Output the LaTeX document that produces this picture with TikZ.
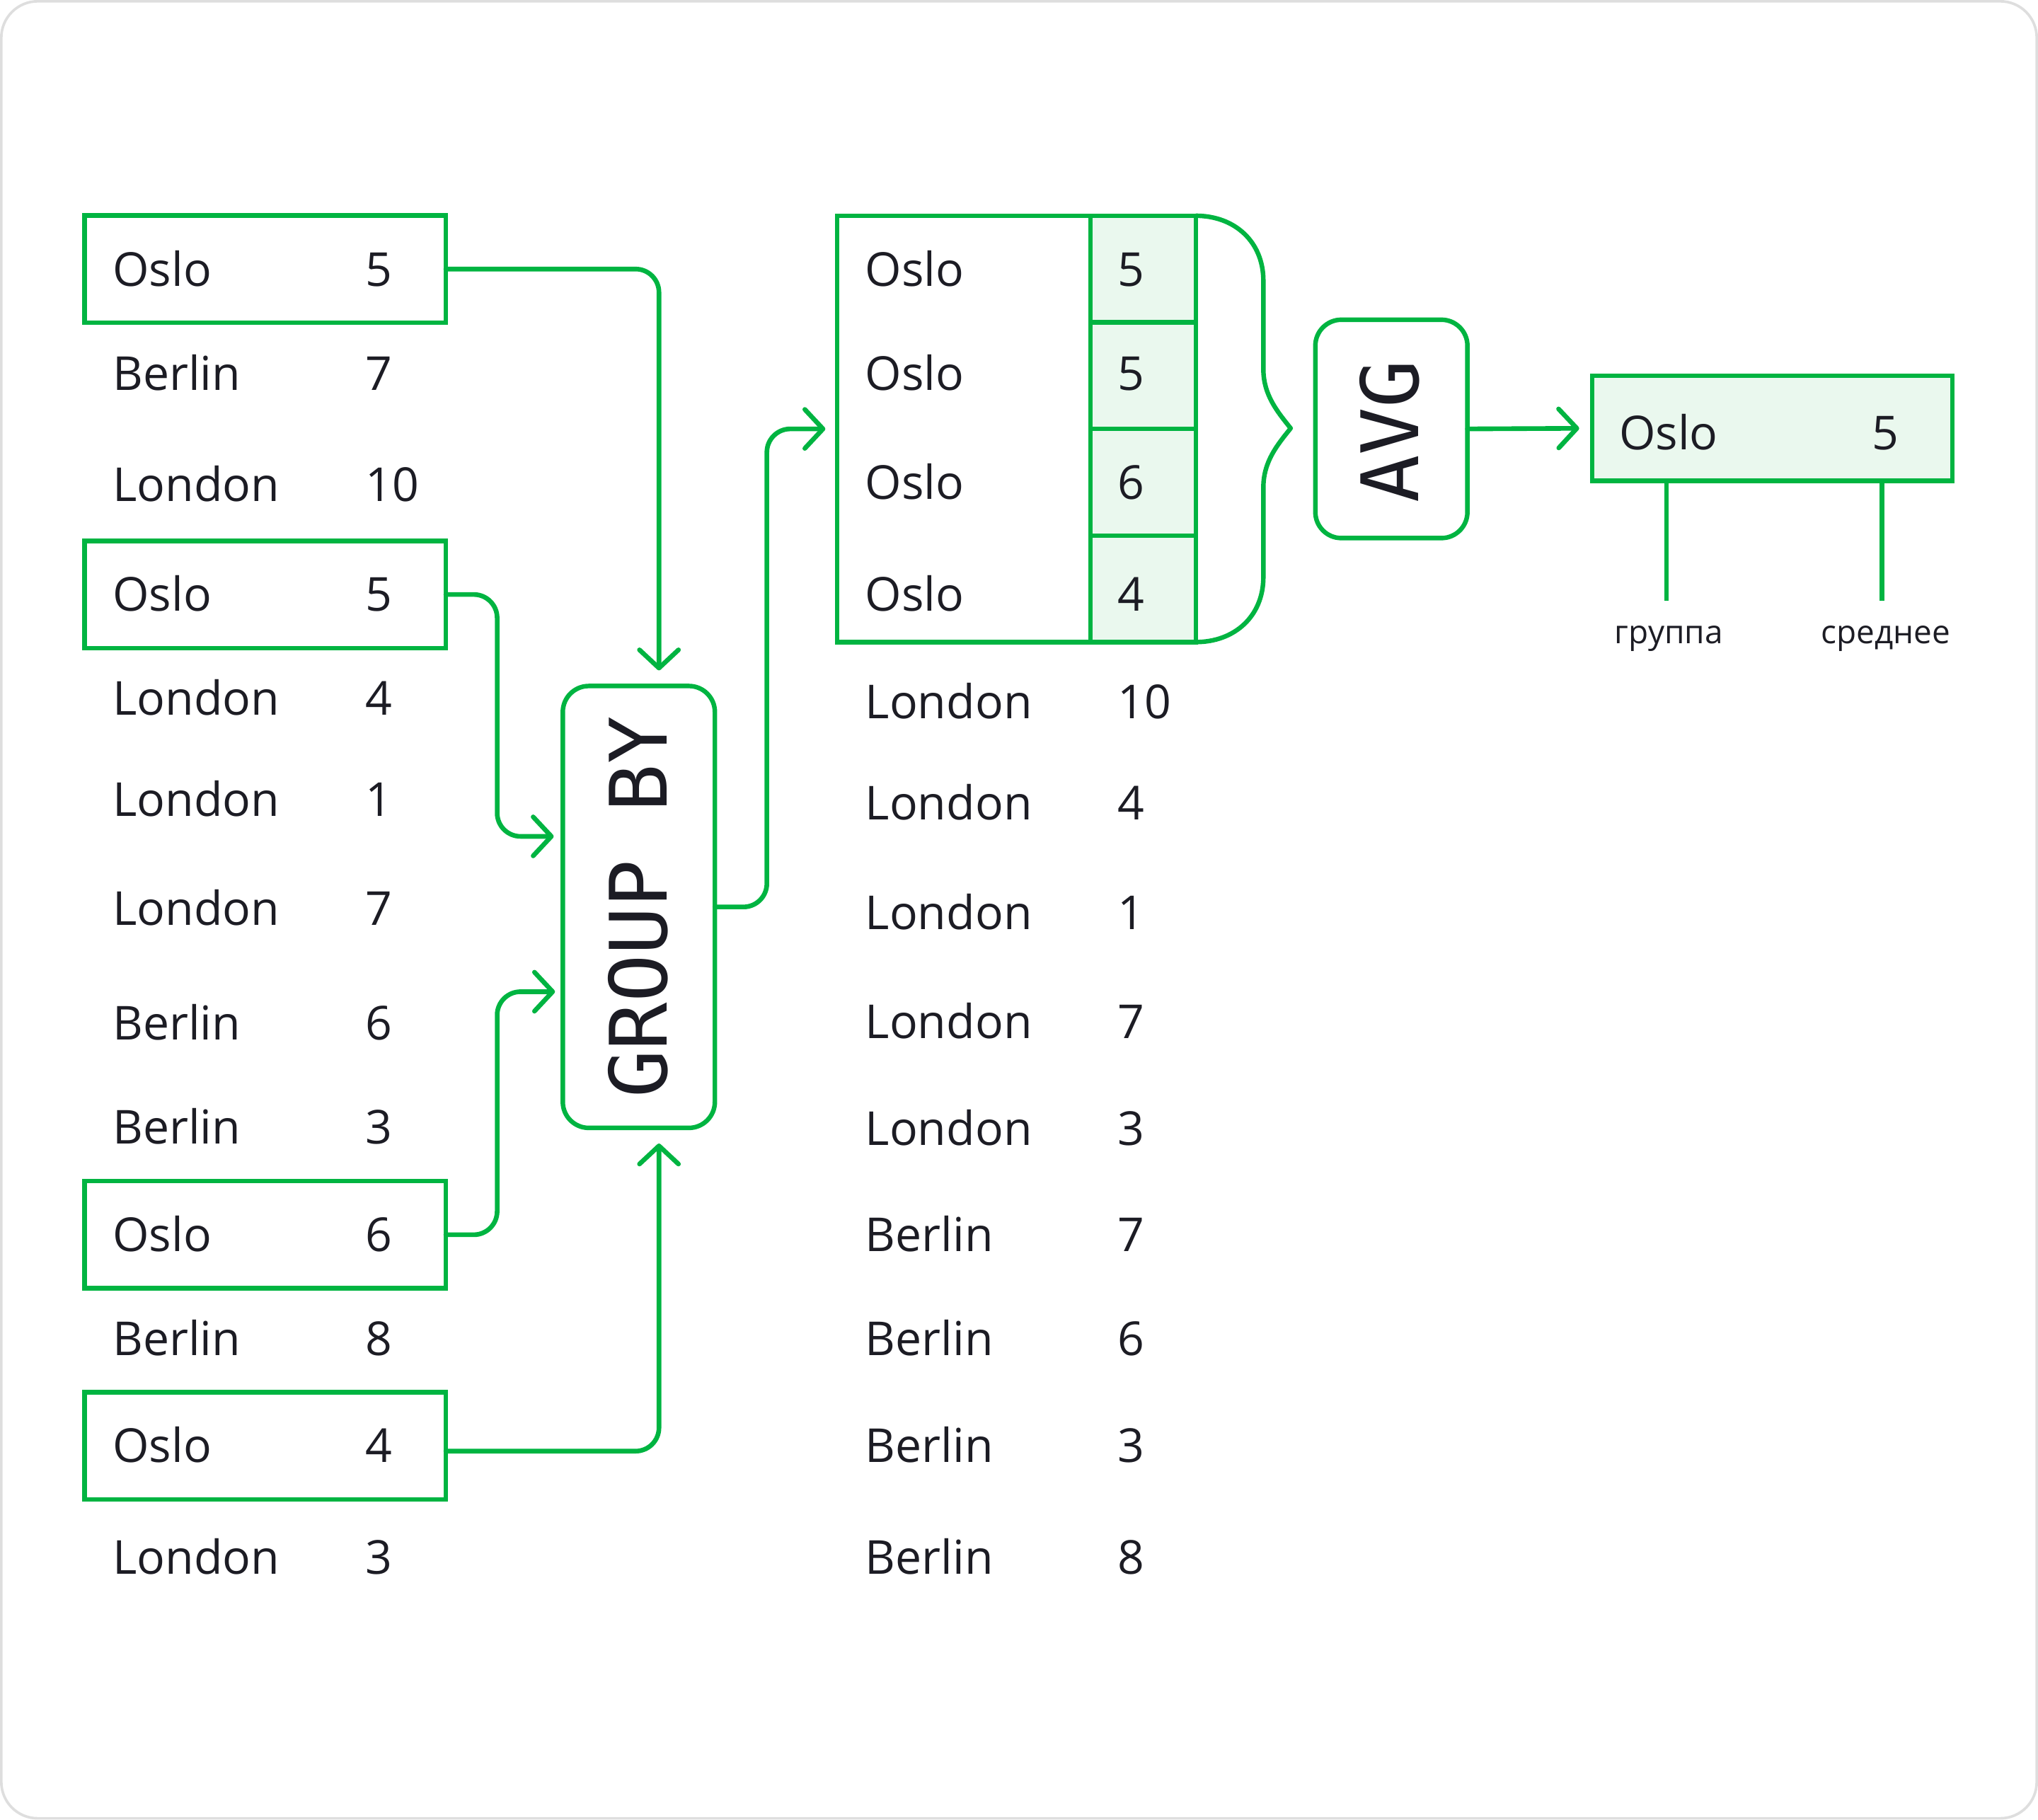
\documentclass[tikz,border=0pt]{standalone}
\usepackage{fontspec}
\setmainfont{Open Sans}
\newfontfamily\opfont{DejaVu Sans Mono}
\usetikzlibrary{arrows.meta}
\definecolor{grn}{HTML}{00B441}
\definecolor{lgrn}{HTML}{EAF8EE}
\definecolor{ink}{HTML}{1C1C24}
\definecolor{frame}{HTML}{DEDEDE}
\tikzset{
  rowbox/.style={draw=grn, line width=3.5pt, minimum width=278pt, minimum height=82.5pt, inner sep=0pt, outer sep=0pt},
  opbox/.style={draw=grn, line width=3.5pt, rounded corners=20pt, inner sep=0pt, outer sep=0pt},
  txt/.style={font=\fontsize{36}{40}\selectfont, text=ink, inner sep=0pt, anchor=base west},
  optext/.style={font=\opfont\fontsize{61}{61}\selectfont, text=ink, inner sep=0pt, rotate=90},
  lbl/.style={font=\fontsize{25}{28}\selectfont, text=ink, inner sep=0pt, anchor=base},
  conn/.style={draw=grn, line width=3.6pt, rounded corners=18pt, line cap=round,
    -{Straight Barb[length=14pt,width=30pt,line cap=round,line join=round]}},
  gline/.style={draw=grn, line width=3.5pt},
}
\begin{document}
\begin{tikzpicture}[x=1pt,y=-1pt]
\useasboundingbox (0,0) rectangle (1568,1400);
\draw[frame, line width=2pt, rounded corners=28pt] (1,1) rectangle (1567,1399);

% left column boxes
\node[rowbox] (b1) at (204,207) {};
\node[rowbox] (b2) at (204,457.4) {};
\node[rowbox] (b3) at (204,950) {};
\node[rowbox] (b4) at (204,1112.5) {};

% left column text
\foreach \c/\n/\y [count=\i] in {Oslo/5/207, Berlin/7/287, London/10/373, Oslo/5/457, London/4/537, London/1/615, London/7/699, Berlin/6/787, Berlin/3/867, Oslo/6/950, Berlin/8/1030, Oslo/4/1112, London/3/1198}{
  \node[txt] (lc\i) at (86.5,{\y+13}) {\c};
  \node[txt] (ln\i) at (281,{\y+13}) {\n};
}

% GROUP BY
\node[opbox, minimum width=117pt, minimum height=340pt] (gb) at (491.5,697.8) {};
\node[optext] (gbt) at (491,698) {GROUP BY};

% middle table
\fill[lgrn] (839,166) rectangle (920,494);
\node[draw=grn, line width=3.5pt, minimum width=276pt, minimum height=328pt, inner sep=0pt, outer sep=0pt] (tbl) at (782,330) {};
\draw[gline] (839,166) -- (839,494);
\draw[gline] (839,248) -- (920,248);
\draw[gline] (839,330) -- (920,330);
\draw[gline] (839,412) -- (920,412);

\foreach \c/\n/\y [count=\i] in {Oslo/5/207, Oslo/5/287, Oslo/6/371, Oslo/4/457, London/10/540, London/4/618, London/1/702, London/7/786, London/3/868, Berlin/7/950, Berlin/6/1030, Berlin/3/1112, Berlin/8/1198}{
  \node[txt] (mc\i) at (665.5,{\y+13}) {\c};
  \node[txt] (mn\i) at (860,{\y+13}) {\n};
}

% brace
\draw[gline, line join=round] (920,166) .. controls (950,166) and (972,186) .. (972,216)
  -- (972,284) .. controls (972,304) and (983,317) .. (993,329.5)
  .. controls (983,342) and (972,355) .. (972,375)
  -- (972,444) .. controls (972,474) and (950,494) .. (920,494);

% AVG
\node[opbox, minimum width=117pt, minimum height=168pt] (avg) at (1070.5,330) {};
\node[optext] (avgt) at (1069,332) {AVG};

% result
\node[draw=grn, fill=lgrn, line width=3.5pt, minimum width=277pt, minimum height=81pt, inner sep=0pt, outer sep=0pt] (res) at (1363.5,329.5) {};
\node[txt] (rc) at (1245.5,{333+13}) {Oslo};
\node[txt] (rn) at (1440,{333+13}) {5};

\coordinate (g1) at (1282,462);
\coordinate (g2) at (1448,462);
\draw[gline] (g1 |- res.south) -- (g1);
\draw[gline] (g2 |- res.south) -- (g2);
\node[lbl] (lg1) at (1284,495) {группа};
\node[lbl] (lg2) at (1451,495) {среднее};

% connectors
\draw[conn, shorten >=12pt] (b1.east) -| ([xshift=15.5pt]gb.north);
\draw[conn, shorten >=7pt] (b2.east) -- ++(39.5,0) |- ([yshift=54.3pt]gb.west);
\draw[conn, shorten >=6pt] (b3.east) -- ++(39.5,0) |- ([yshift=-65.2pt]gb.west);
\draw[conn, shorten >=12pt] ([yshift=-4pt]b4.east) -| ([xshift=15.5pt]gb.south);
\draw[conn, shorten >=9pt] (gb.east) -- ++(40,0) |- (tbl.west);
\draw[conn, shorten >=10pt] (avg.east) -- (res.west);
\end{tikzpicture}
\end{document}
